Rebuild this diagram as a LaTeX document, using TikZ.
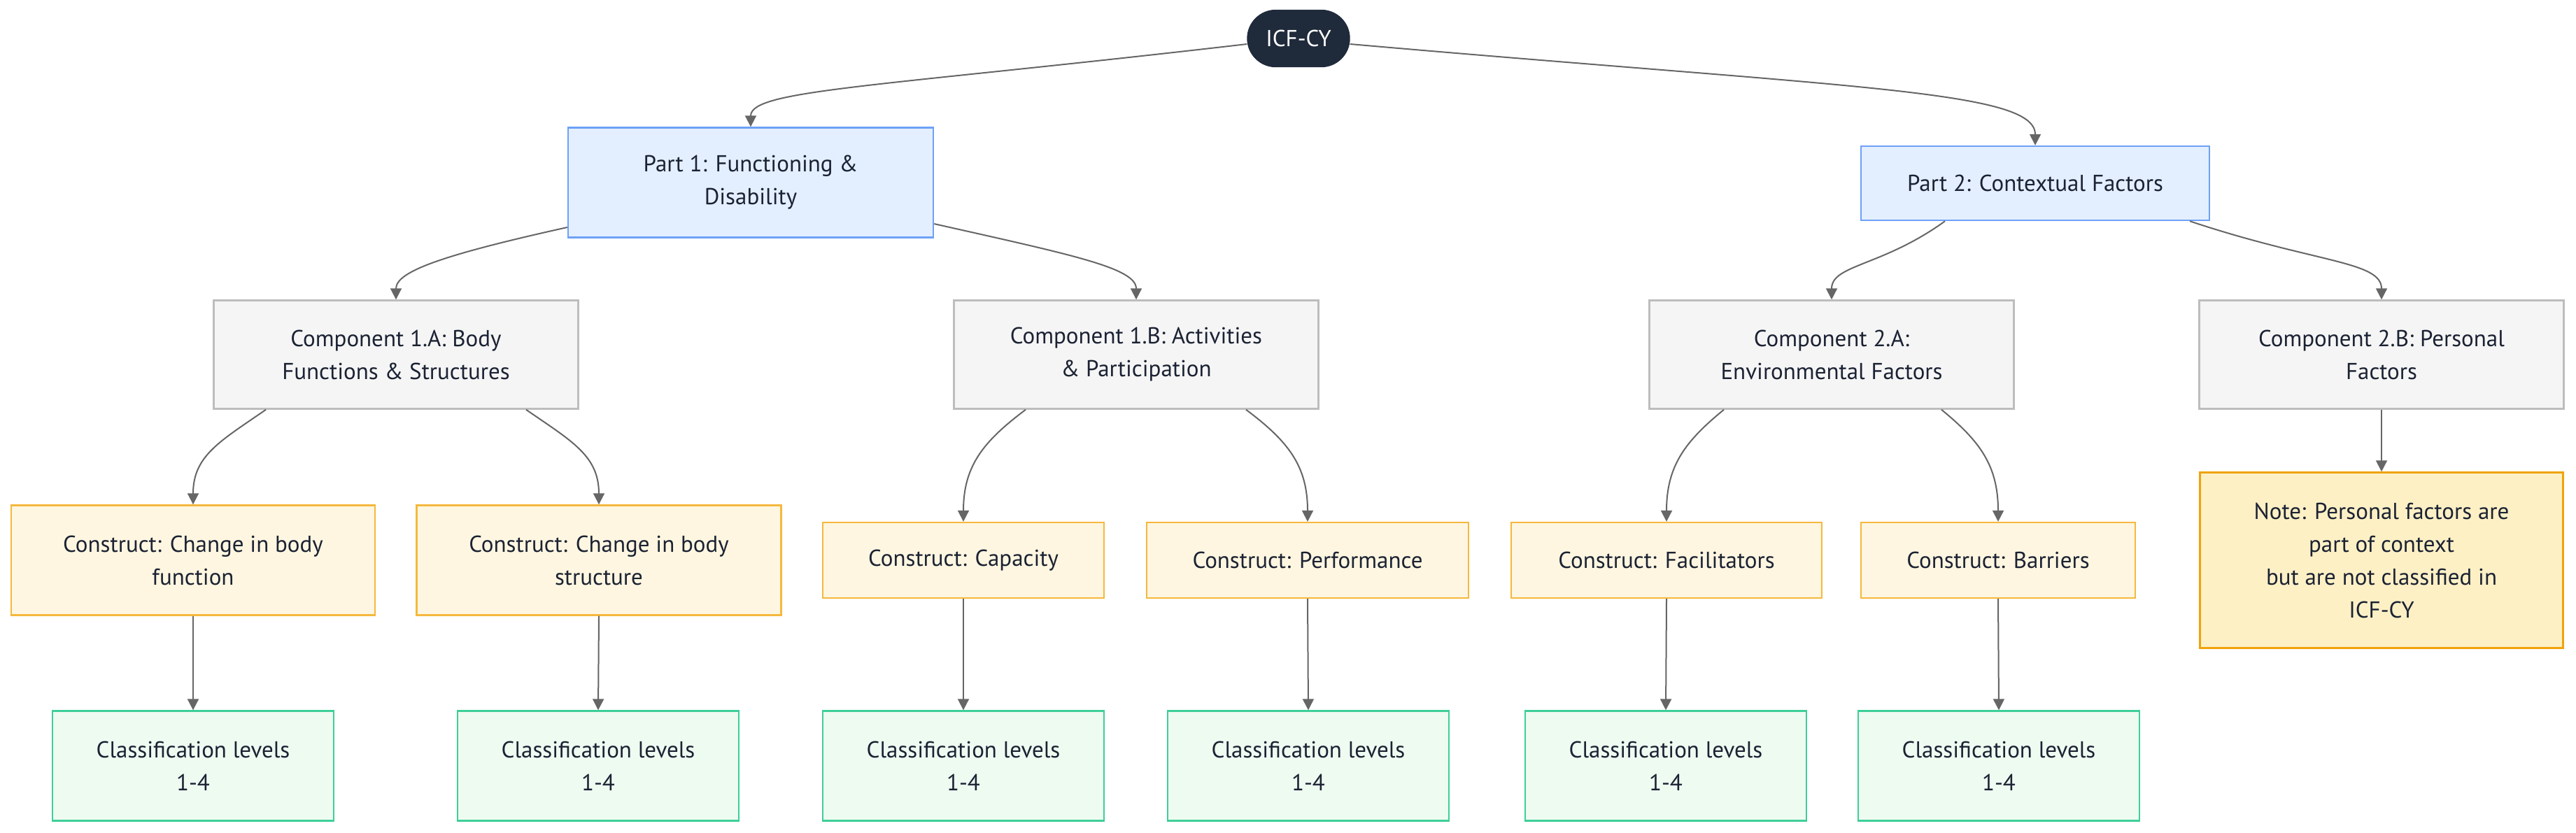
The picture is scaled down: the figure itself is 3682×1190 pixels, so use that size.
\documentclass[tikz,border=0pt]{standalone}
\usepackage{fontspec}
\setmainfont{PT Sans}
\usetikzlibrary{arrows.meta}
\definecolor{txt}{HTML}{1B2233}
\definecolor{icffill}{HTML}{1F2A3B}
\definecolor{partfill}{HTML}{E3EFFE}
\definecolor{partline}{HTML}{6EA1F7}
\definecolor{compfill}{HTML}{F5F5F5}
\definecolor{compline}{HTML}{BDBDBD}
\definecolor{consfill}{HTML}{FEF6E0}
\definecolor{consline}{HTML}{F5B83D}
\definecolor{notefill}{HTML}{FDF0C5}
\definecolor{noteline}{HTML}{F0A30A}
\definecolor{clfill}{HTML}{EEFBF1}
\definecolor{clline}{HTML}{3ECF98}
\definecolor{edgec}{HTML}{666666}
\begin{document}
\begin{tikzpicture}[x=0.5pt,y=-0.5pt,
  box/.style={draw, line width=1.2pt, align=center, inner sep=0pt, text=txt,
    font=\fontsize{16.5}{23.5}\selectfont},
  rootbox/.style={box, fill=icffill, draw=icffill, text=white, rounded corners=20pt,
    minimum width=72.5pt, minimum height=40pt},
  partbox/.style={box, fill=partfill, draw=partline},
  compbox/.style={box, fill=compfill, draw=compline, minimum width=260.5pt, minimum height=77.5pt},
  consbox/.style={box, fill=consfill, draw=consline},
  notebox/.style={box, fill=notefill, draw=noteline, minimum width=259.5pt, minimum height=125.5pt},
  clbox/.style={box, fill=clfill, draw=clline, minimum width=201pt, minimum height=78.5pt},
  edge/.style={draw=edgec, line width=1pt, -{Triangle[length=8pt,width=8pt]}}]
\useasboundingbox (0,0) rectangle (3682,1190);
% nodes
\node[rootbox] (icf) at (1856,55) {ICF-CY};
\node[partbox, minimum width=261pt, minimum height=78.5pt] (part1) at (1073,261) {Part 1: Functioning \&\\Disability};
\node[partbox, minimum width=249pt, minimum height=53pt] (part2) at (2909,262) {Part 2: Contextual Factors};
\node[compbox] (c1a) at (566,507) {Component 1.A: Body\\Functions \& Structures};
\node[compbox] (c1b) at (1624,507) {Component 1.B: Activities\\\& Participation};
\node[compbox] (c2a) at (2618,507) {Component 2.A:\\Environmental Factors};
\node[compbox] (c2b) at (3404,507) {Component 2.B: Personal\\Factors};
\node[consbox, minimum width=260pt, minimum height=78.5pt] (k1) at (276,801) {Construct: Change in body\\function};
\node[consbox, minimum width=260.5pt, minimum height=78.5pt] (k2) at (856,801) {Construct: Change in body\\structure};
\node[consbox, minimum width=201pt, minimum height=54pt] (k3) at (1377,801) {Construct: Capacity};
\node[consbox, minimum width=230pt, minimum height=54pt] (k4) at (1869,801) {Construct: Performance};
\node[consbox, minimum width=222pt, minimum height=54pt] (k5) at (2382,801) {Construct: Facilitators};
\node[consbox, minimum width=196pt, minimum height=54pt] (k6) at (2856,801) {Construct: Barriers};
\node[notebox] (note) at (3404,801) {Note: Personal factors are\\part of context\\but are not classified in\\ICF-CY};
\node[clbox] (l1) at (276,1095) {Classification levels\\1-4};
\node[clbox] (l2) at (855,1095) {Classification levels\\1-4};
\node[clbox] (l3) at (1377,1095) {Classification levels\\1-4};
\node[clbox] (l4) at (1870,1095) {Classification levels\\1-4};
\node[clbox] (l5) at (2381,1095) {Classification levels\\1-4};
\node[clbox] (l6) at (2857,1095) {Classification levels\\1-4};
% edges
\draw[edge] ([yshift=-4pt]icf.west) .. controls +(-534,62) and +(0,-53) .. (part1.north);
\draw[edge] ([yshift=-4pt]icf.east) .. controls +(720,63) and +(0,-79) .. (part2.north);
\draw[edge] ([yshift=-32pt]part1.west) .. controls +(-180,40) and +(0,-40) .. (c1a.north);
\draw[edge] ([yshift=-29.5pt]part1.east) .. controls +(200,45) and +(0,-45) .. (c1b.north);
\draw[edge] ([xshift=-64.5pt]part2.south) .. controls +(-90,65) and +(0,-50) .. (c2a.north);
\draw[edge] ([xshift=110.5pt]part2.south) .. controls +(180,60) and +(0,-55) .. (c2b.north);
\draw[edge] ([xshift=-93pt]c1a.south) .. controls +(-65,45) and +(0,-70) .. (k1.north);
\draw[edge] ([xshift=93pt]c1a.south) .. controls +(65,45) and +(0,-70) .. (k2.north);
\draw[edge] ([xshift=-79pt]c1b.south) .. controls +(-60,45) and +(0,-80) .. (k3.north);
\draw[edge] ([xshift=78.5pt]c1b.south) .. controls +(60,45) and +(0,-80) .. (k4.north);
\draw[edge] ([xshift=-77pt]c2a.south) .. controls +(-55,45) and +(0,-80) .. (k5.north);
\draw[edge] ([xshift=78.5pt]c2a.south) .. controls +(55,45) and +(0,-80) .. (k6.north);
\draw[edge] (c2b.south) -- (note.north);
\draw[edge] (k1.south) -- (l1.north);
\draw[edge] (k2.south) -- (l2.north);
\draw[edge] (k3.south) -- (l3.north);
\draw[edge] (k4.south) -- (l4.north);
\draw[edge] (k5.south) -- (l5.north);
\draw[edge] (k6.south) -- (l6.north);
\end{tikzpicture}
\end{document}
